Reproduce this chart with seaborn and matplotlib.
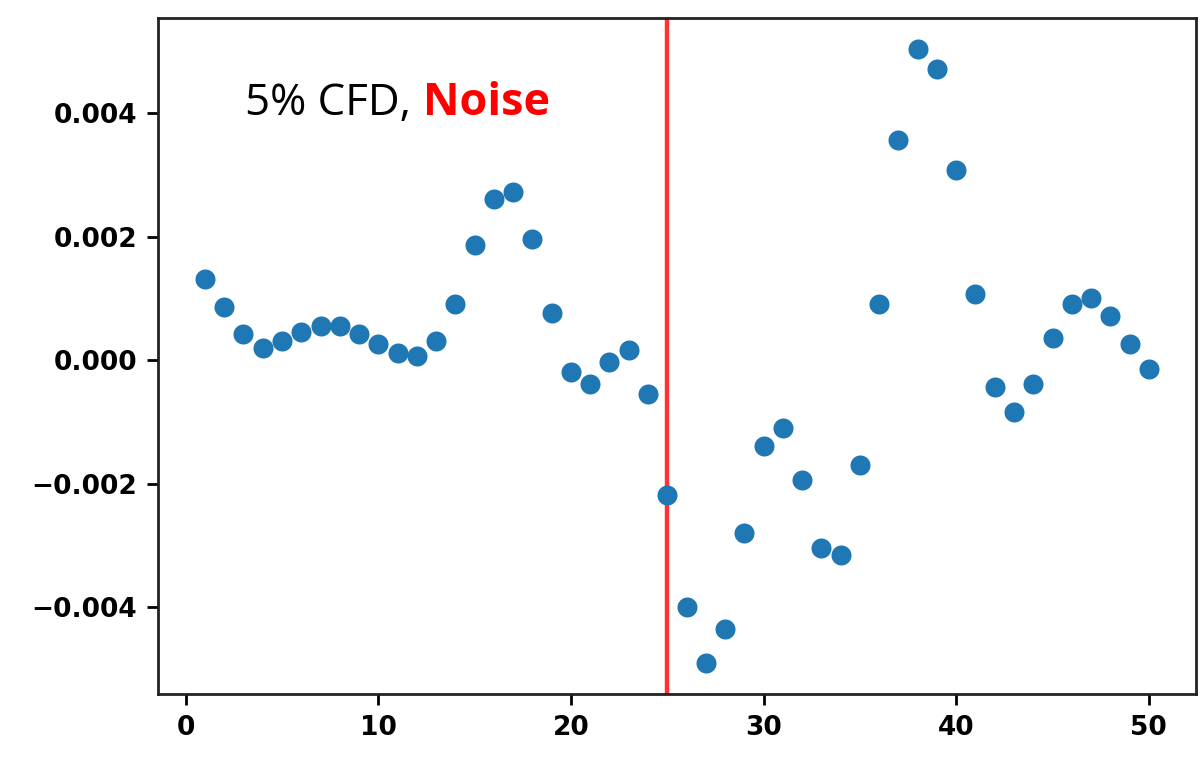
import numpy as np
import pandas as pd
import matplotlib
matplotlib.use("Agg")
import matplotlib.pyplot as plt
import seaborn as sns

x_vals = list(range(1, 51))
y_vals = [0.00131, 0.00086, 0.00042, 0.00019, 0.00031, 0.00045, 0.00055, 0.00055, 0.00042, 0.00026,
          0.00011, 0.00006, 0.00031, 0.00091, 0.00186, 0.00261, 0.00272, 0.00196, 0.00076, -0.00019,
          -0.00039, -0.00003, 0.00016, -0.00055, -0.00219, -0.00400, -0.00491, -0.00436, -0.00280, -0.00139,
          -0.00110, -0.00194, -0.00304, -0.00316, -0.00170, 0.00091, 0.00356, 0.00504, 0.00471, 0.00308,
          0.00107, -0.00044, -0.00084, -0.00039, 0.00036, 0.00091, 0.00100, 0.00071, 0.00026, -0.00015]
vline_x = 25
label_main = "5% CFD, "
label_red = "Noise"

sns.set_style("ticks")
plt.rcParams['font.family'] = ['DejaVu Sans']

df = pd.DataFrame({"x": x_vals, "y": y_vals})
fig = plt.figure(figsize=(6.02, 3.785), dpi=200)
ax = fig.add_axes([0.131, 0.0832, 0.8624, 0.8928])
sns.scatterplot(data=df, x="x", y="y", ax=ax, color="#1f77b4", s=52, linewidth=0, zorder=3)
ax.axvline(vline_x, color="red", alpha=0.8, linewidth=1.6, zorder=2)
ax.set_xlabel("")
ax.set_ylabel("")
ax.set_xticks([0, 10, 20, 30, 40, 50])
ax.set_yticks([-0.004, -0.002, 0.0, 0.002, 0.004])
ax.set_yticklabels(["\u22120.004", "\u22120.002", "0.000", "0.002", "0.004"])
ax.tick_params(labelsize=9.5, colors="black", width=1, length=4)
for lab in ax.get_xticklabels() + ax.get_yticklabels():
    lab.set_fontweight("bold")
for sp in ax.spines.values():
    sp.set_visible(True)
    sp.set_color("#222222")
    sp.set_linewidth(1.0)

t1 = ax.text(3.1, 0.00397, label_main, fontsize=15.8, family="Open Sans", color="black")
fig.canvas.draw()
bb = t1.get_window_extent()
inv = ax.transData.inverted()
x_end = inv.transform((bb.x1, bb.y0))[0]
ax.text(x_end, 0.00397, label_red, fontsize=16.2, family="Open Sans", fontweight="bold", color="red")

fig.savefig("out.png", dpi=200)
